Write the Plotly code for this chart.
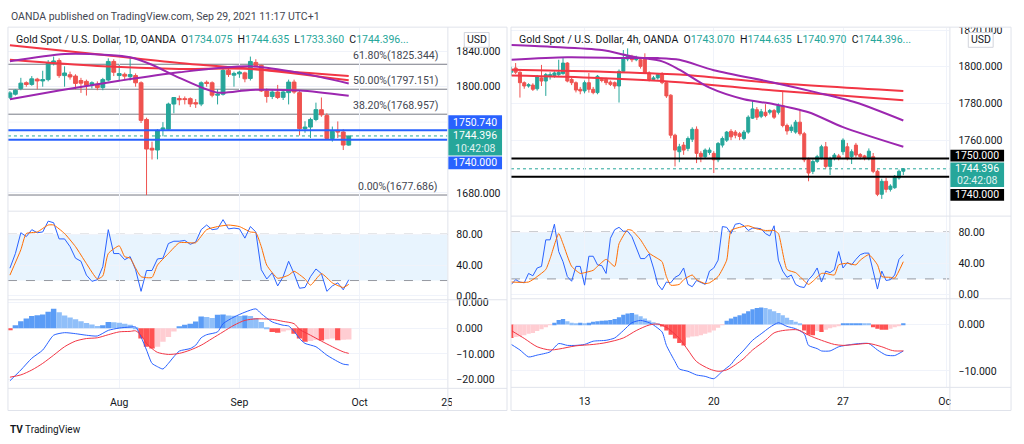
import plotly.graph_objects as go

W, H = 1024, 444
def px(x): return x / W
def py(y): return 1 - y / H

FONT = "Roboto"
TXT = "#131722"
GREEN = "#26a69a"
RED = "#ef5350"
GRID = "#f0f3fa"
BORDER = "#e0e3eb"
MA_RED = "#f23645"
MA_PURPLE = "#9c27b0"
K_BLUE = "#2962ff"
D_ORANGE = "#ff6d00"

# ================= LEFT CHART (1D) =================
L_open = [1788,1791.5,1798,1804.5,1802.6,1808.5,1806.5,1808,1827.5,1829.5,1812.5,1813.5,1812,1807,1806,1802.6,1803,1799,1807.5,1828.5,1812.6,1814,1811.3,1812.6,1804.4,1763,1730.5,1728.5,1752,1752,1780.4,1786.7,1786.5,1786.5,1782,1780.4,1805,1804.4,1790.4,1791.5,1818.5,1813,1814.5,1815.6,1809.3,1827.4,1824.1,1795.2,1789,1794,1788,1793.3,1805.2,1793.3,1752.6,1754.4,1763,1774,1767.4,1741.5,1750,1748.9,1734.075]
L_high = [1795,1797,1810,1806,1812,1810,1818,1830,1834,1832,1823,1817,1814,1810,1808,1806,1806,1810,1832,1831,1825,1816,1832,1815,1806,1765,1738,1752,1760,1782,1788,1790,1789,1788,1786,1806,1807,1806,1797,1820,1821,1817,1818,1817,1834,1831,1825,1798,1797,1802,1797,1808,1808,1795,1761,1765,1782,1787.8,1770,1755,1760.8,1752,1744.635]
L_low = [1786,1790,1796,1800,1801,1797,1800,1806,1824,1810,1800,1808,1797,1793,1790,1798,1796,1796,1806,1812,1807,1808,1807,1800,1759,1677.686,1717.8,1718,1744,1750,1770,1779,1780,1777,1776,1778,1800,1788,1780,1790,1811,1800,1810,1805,1807,1822,1794,1782,1786,1786,1785,1780,1792,1745,1748,1742,1761,1766,1740,1738,1742,1728.5,1733.36]
L_close = [1793,1796,1804,1802.5,1808.9,1806.5,1808,1827,1829,1812.5,1815.5,1811,1803.7,1804,1801.5,1804.4,1799,1808,1828.5,1816.3,1814.8,1811.9,1813.7,1804.4,1762,1729.6,1728.5,1750.7,1753.3,1780.4,1787.8,1785.2,1785.5,1780.5,1780.5,1804.4,1803.7,1790.4,1791.5,1818.5,1813.7,1815,1816.5,1808.9,1828.5,1823.7,1795.2,1788.9,1794,1787.8,1794,1805.2,1794,1752.6,1754.4,1763,1774.1,1768.2,1741.5,1749.6,1749,1734.1,1744.396]

# moving averages (sampled at bar indices)
L_red1_idx = [0, 16, 31, 62]
L_red1 = [1846.7, 1836.7, 1826.7, 1812.2]
L_red2_idx = [0, 16, 31, 44, 62]
L_red2 = [1830.3, 1823.3, 1820.0, 1820.0, 1807.2]
L_pur1_idx = [0, 10, 18, 22, 26, 31, 38, 44, 53, 62]
L_pur1 = [1828.6, 1837.0, 1835.9, 1833.3, 1824.8, 1810.0, 1793.3, 1796.3, 1795.6, 1789.7]
L_pur2_idx = [0, 9, 20, 31, 44, 53, 62]
L_pur2 = [1785.9, 1795.6, 1806.7, 1816.3, 1823.0, 1815.6, 1803.7]

# stochastic
L_k = [36,55,82,77,86,82,83,97,95,74,74,64,49,45,27,19,21,38,86,55,55,47,51,34,6,33,33,48,49,68,71,71,72,67,70,86,92,86,87,99,87,88,87,75,90,83,34,22,30,13,25,45,29,10,11,25,35,29,6,13,17,8,21]
L_d_idx = [0,2,3,5,7,8,10,12,14,16,17,18,20,21,22,23,24,26,27,29,31,33,34,36,38,40,42,44,45,46,47,49,51,52,54,55,57,59,61,62]
L_d = [27,60,81,83,92,92,81,64,42,22,26,55,65,51,49,36,25,24,40,55,69,69,69,86,90,92,90,83,82,64,40,23,27,32,22,14,29,17,11,15]

# MACD
L_hist = [-0.8,1.2,2.8,3.8,4.8,5.1,5.4,6.5,7.6,6.3,5.0,4.2,3.5,2.8,2.1,1.5,0.9,1.2,2.5,2.4,2.2,1.8,1.4,0.1,-4.0,-7.2,-7.9,-7.2,-5.3,-3.4,-1.2,0.8,1.4,1.8,2.7,4.6,4.4,4.0,5.3,5.4,5.0,4.9,4.8,5.0,4.8,4.0,2.5,0.1,-1.4,-1.7,-1.2,-0.8,-2.1,-4.0,-5.3,-5.0,-4.6,-4.8,-4.3,-4.0,-4.7,-4.5,-4.4]
L_macd_idx = [0,2,4,6,8,10,12,14,16,18,20,22,23,24,25,26,27,28,29,30,31,33,34,35,36,38,39,41,43,45,46,48,50,51,52,53,54,56,58,60,61,62]
L_macd = [-20.5,-16.3,-11.7,-8.5,-2.7,-1.7,-2.1,-2.7,-3.0,-0.8,0.1,0.5,0.5,-3.4,-8.5,-13.7,-15,-15.9,-13.7,-11.1,-8.9,-7.9,-6.6,-3.7,-2.5,-1.4,1.8,4.4,6.3,7.6,5.7,2.5,1.2,0.9,-1.2,-4,-5.9,-7.2,-10.5,-13,-14,-14.3]
L_sig_idx = [0,2,4,6,8,10,12,14,16,18,20,22,23,24,25,26,27,29,31,33,35,37,39,41,43,45,46,48,50,52,53,55,57,59,61,62]
L_sig = [-19.1,-18.2,-16.3,-13.7,-10.5,-7.2,-5,-4,-3.7,-2.5,-1.4,-1.2,-1,-2.7,-5.9,-7.9,-9.4,-10.2,-9.8,-8.5,-6.6,-4,-1.4,1.2,3.1,3.7,3.7,3.5,2.7,1.8,-0.4,-2.7,-5,-7.2,-9.2,-9.8]

L_tick_idx = [20, 42, 64, 80]
L_tick_txt = ["Aug", "Sep", "Oct", "25"]
L_fib = [("61.80%", 1825.344), ("50.00%", 1797.151), ("38.20%", 1768.957), ("0.00%", 1677.686)]
L_lines = [1750.740, 1740.000]
L_ohlc_txt = ("1D", "1734.075", "1744.635", "1733.360", "1744.396")
L_timer = "10:42:08"
L_price_ticks = [1840, 1800, 1680]          # labelled price ticks
L_price_grid_extra = [1760, 1720]           # grid levels whose labels sit under the price boxes

# ================= RIGHT CHART (4h) =================
R_open = [1797,1799.3,1797,1791.3,1789.5,1790,1788,1793.9,1792.2,1794.8,1795.2,1795.7,1796.2,1802,1793.1,1791.3,1787.7,1786.8,1791.3,1787.7,1785.9,1793.1,1793.1,1791.6,1791.3,1789.5,1797.5,1804.2,1805.2,1803.8,1803.8,1804.7,1796.6,1793.1,1793.9,1796.2,1791.3,1784.5,1762.7,1753.7,1757.3,1755.5,1760.5,1765.9,1752.8,1751,1753.3,1752.8,1749.3,1757.3,1760,1764.8,1764.4,1763.5,1760.9,1764.4,1772,1776.6,1773,1775.2,1775.2,1776.1,1775.2,1778.8,1768,1765.3,1764.4,1769.8,1763.5,1749.3,1743,1748.4,1750.5,1756.4,1745.7,1750.2,1751.4,1753.7,1756.4,1751,1757.3,1752.2,1751.4,1750.2,1751,1743,1730.5,1737.6,1733.2,1734.1,1739.4,1743.07]
R_high = [1800,1802,1797.5,1792,1791,1791,1795.5,1801,1796.6,1797,1797.5,1803.8,1804.7,1802.5,1794,1792,1789,1792.5,1796.6,1789,1795.5,1794,1794,1792.5,1792,1798.5,1809.1,1810,1806.5,1806,1805,1807.3,1797.5,1795,1796.6,1797,1792,1785,1763.5,1758,1759,1762,1767,1767.5,1754,1755.5,1756,1754,1759,1762,1765,1766,1765.5,1764.5,1765.5,1773.5,1781.4,1778,1777,1779.6,1777,1777,1780,1786.8,1769,1768.5,1771,1777,1764.5,1750.5,1749.5,1752,1757.5,1759,1751,1753,1752.5,1761,1758.5,1755,1758.5,1753,1752,1755.5,1753,1744,1739,1739.5,1736,1741,1744,1744.635]
R_low = [1795,1796,1783.2,1788,1788.6,1786.8,1787,1789.5,1784.1,1793,1794,1795,1795.7,1791.5,1790,1786,1785,1785.5,1785.9,1785,1785,1791.5,1790,1789.5,1788,1780.5,1797,1803,1802.5,1803,1799,1796,1792,1792.5,1793,1790.5,1783,1761,1745.7,1748,1752,1754,1759,1747.5,1748,1750,1752,1742.1,1748,1756,1759,1760,1761,1760,1760,1763.5,1771.5,1771,1772,1772.5,1774,1771.5,1774,1767,1763,1764,1763.5,1762.5,1748,1737.6,1741.5,1747.5,1749.5,1744.5,1741,1749,1749,1752,1749,1747,1750.5,1749.5,1749,1749,1742,1729.5,1728,1731.5,1732,1733.5,1738.5,1740.97]
R_close = [1798.6,1797,1791.3,1789.5,1790.2,1787.7,1794.8,1792.2,1795.7,1795.7,1796.6,1797,1802,1792.2,1791.3,1787.3,1786.8,1791.3,1787.7,1785.9,1794.8,1792.5,1791.3,1790.4,1789.5,1797.5,1804.7,1805.6,1803.8,1804.7,1800.2,1796.6,1793.1,1793.9,1795.7,1791.3,1784.1,1762.7,1754.6,1756.4,1754.6,1760.9,1765.9,1752.8,1751,1754.6,1754.6,1749.3,1758.2,1760.9,1764.4,1761.8,1762.7,1762,1764.4,1772.5,1777,1772.5,1775.5,1773.4,1776.1,1772.5,1778.8,1768,1765,1767.1,1769.8,1763.5,1749.3,1742.1,1748.4,1751,1756.4,1745.7,1750,1751.9,1750.2,1760,1750.2,1753.7,1751.9,1751,1750.2,1754,1743,1730.5,1737.6,1733.2,1735,1740.3,1743,1744.396]

R_red1_idx = [0, 20, 39, 60, 91]
R_red1 = [1798.4, 1797.4, 1795.7, 1791.3, 1786.8]
R_red2_idx = [0, 20, 39, 61, 91]
R_red2 = [1795.2, 1793.9, 1791.6, 1787.0, 1781.8]
R_pur1_idx = [0, 9, 21, 28, 35, 39, 46, 54, 61, 69, 77, 91]
R_pur1 = [1811.8, 1810.9, 1809.1, 1805.6, 1802.9, 1798.4, 1788.6, 1782.3, 1779.6, 1775.2, 1767.1, 1756.4]
R_pur2_idx = [0, 13, 27, 34, 39, 47, 61, 71, 80, 91]
R_pur2 = [1803.8, 1805.2, 1804.7, 1804.7, 1803.8, 1798.1, 1791.3, 1785.9, 1780.5, 1770.7]

R_k = [13,19,16,15,27,24,34,36,70,70,90,55,42,23,17,36,36,12,49,49,38,37,27,72,83,86,81,81,74,61,46,46,52,34,13,6,16,15,22,25,34,13,10,18,15,13,30,34,44,87,86,78,90,91,88,82,85,85,84,78,75,88,44,30,22,25,13,10,9,19,25,34,16,30,28,32,55,34,41,38,45,51,53,53,30,7,30,18,19,25,45,51]
R_d_idx = [0,4,6,8,9,11,12,14,16,17,19,20,22,24,25,27,28,30,32,34,35,36,37,39,40,42,43,45,46,48,50,51,53,55,57,59,61,62,64,66,67,69,70,72,73,75,76,78,80,81,83,85,86,88,89,91]
R_d = [16,16,23,32,46,78,65,36,27,28,31,36,45,36,65,83,82,70,53,46,42,23,12,13,19,25,19,14,15,23,44,82,86,88,84,82,82,78,32,28,23,13,17,27,27,25,38,40,38,44,51,38,23,22,21,42]

R_hist = [-2.9,-2.7,-2.6,-2.3,-2.0,-1.8,-1.4,-1.0,-0.6,-0.1,0.4,1.0,1.2,0.7,0.4,0.3,0.4,0.3,0.4,0.6,0.7,0.8,0.9,1.0,1.2,1.6,2.1,2.4,2.5,2.2,1.8,1.3,0.9,0.5,0.1,-0.4,-1.3,-2.2,-3.0,-4.0,-4.5,-2.8,-2.6,-2.5,-2.3,-2.0,-1.7,-1.3,-0.7,-0.1,0.8,1.3,1.7,2.0,2.4,2.9,3.3,3.6,3.7,3.6,3.3,2.9,2.5,2.0,1.5,1.0,0.6,0.2,-1.3,-2.2,-2.3,-1.4,-1.6,-1.1,-0.8,-0.6,-0.2,0.1,0.3,0.3,0.3,0.3,0.2,0.1,-0.6,-0.9,-1.1,-1.1,-0.9,-0.6,-0.3,0.1]
R_macd_idx = [0,2,4,6,9,11,13,15,17,19,22,24,26,28,30,32,33,35,36,38,39,41,43,45,47,49,51,52,54,56,58,60,62,64,66,68,69,71,72,74,76,79,81,83,85,87,89,91]
R_macd = [-4.3,-5.5,-7,-6.6,-5.9,-4.1,-4.5,-4.5,-4.3,-3.6,-3.4,-2.9,-1.3,0.4,0.9,0.4,-0.1,-1.6,-4.5,-8,-9.6,-10.1,-10.9,-11.2,-11.7,-10.1,-8.6,-7.4,-5.5,-3.4,-2,-0.6,0.4,-0.4,-0.9,-2,-4.5,-5.2,-5.7,-5.7,-4.8,-4.3,-4.1,-4.1,-5.5,-6.6,-6.7,-5.7]
R_sig_idx = [0,3,6,9,11,15,19,22,26,29,32,34,36,39,41,43,46,48,50,52,54,56,59,61,63,66,67,69,72,75,77,80,83,86,88,89,91]
R_sig = [-1.3,-3,-4.8,-5.5,-5.3,-4.6,-4.3,-3.9,-2.9,-1.3,-0.1,0.1,-0.6,-3,-5.5,-8,-9.6,-10.1,-9.8,-8.7,-7.3,-5.5,-3.4,-1.8,-1.3,-1.1,-1.3,-2.3,-3.4,-4.3,-4.5,-4.3,-4.1,-4.8,-5.5,-5.7,-5.7]

R_tick_idx = [17, 47, 77, 101]
R_tick_txt = ["13", "20", "27", "Oct"]
R_lines = [1750.000, 1740.000]
R_ohlc_txt = ("4h", "1743.070", "1744.635", "1740.970", "1744.396")
R_timer = "02:42:08"
R_price_ticks = [1820, 1800, 1780, 1760]
R_price_grid_extra = [1740]
CUR_PRICE = 1744.396

# ================= LAYOUT GEOMETRY (pixels) =================
LX = (8, 450)      # left plot area
RX = (514, 955)    # right plot area
L_PANES = [(24, 210), (210, 300), (300, 390)]
R_PANES = [(24, 215), (215, 299), (299, 389)]
L_RANGES = [(1660.0, 1866.7), (-4.3, 110.6), (-23.27, 11.35)]
R_RANGES = [(1718.9, 1821.3), (-4.8, 101.0), (-13.47, 5.68)]
L_XR = (-0.36, 80.05)
R_XR = (-0.08, 101.7)

fig = go.Figure()

def hist_colors(vals):
    cols = []
    for i, v in enumerate(vals):
        prev = vals[i - 1] if i > 0 else v
        if v >= 0:
            cols.append("#5b9cf6" if v >= prev else "#90bff9")
        else:
            cols.append("#ffcdd2" if v > prev else "#ff5252")
    return cols

def add_chart(o, h, l, c, mas, k, d_idx, d, hist, m_idx, m, s_idx, s, axn):
    xa = [f"x{axn[0]}", f"x{axn[1]}", f"x{axn[2]}"]
    ya = [f"y{axn[0]}", f"y{axn[1]}", f"y{axn[2]}"]
    xs = list(range(len(o)))
    for idx, vals, col in mas:
        fig.add_trace(go.Scatter(x=idx, y=vals, mode="lines", line=dict(color=col, width=2, shape="spline", smoothing=0.8),
                                 xaxis=xa[0], yaxis=ya[0], hoverinfo="skip"))
    fig.add_trace(go.Candlestick(x=xs, open=o, high=h, low=l, close=c, xaxis=xa[0], yaxis=ya[0],
                                 increasing=dict(line=dict(color=GREEN, width=1), fillcolor=GREEN),
                                 decreasing=dict(line=dict(color=RED, width=1), fillcolor=RED),
                                 whiskerwidth=0, hoverinfo="skip"))
    fig.add_trace(go.Scatter(x=xs, y=k, mode="lines", line=dict(color=K_BLUE, width=1), xaxis=xa[1], yaxis=ya[1], hoverinfo="skip"))
    fig.add_trace(go.Scatter(x=d_idx, y=d, mode="lines", line=dict(color=D_ORANGE, width=1, shape="spline", smoothing=0.5),
                             xaxis=xa[1], yaxis=ya[1], hoverinfo="skip"))
    fig.add_trace(go.Bar(x=xs, y=hist, width=1.0, marker=dict(color=hist_colors(hist), line=dict(width=0)),
                         xaxis=xa[2], yaxis=ya[2], hoverinfo="skip"))
    fig.add_trace(go.Scatter(x=m_idx, y=m, mode="lines", line=dict(color=K_BLUE, width=1, shape="spline", smoothing=0.6),
                             xaxis=xa[2], yaxis=ya[2], hoverinfo="skip"))
    fig.add_trace(go.Scatter(x=s_idx, y=s, mode="lines", line=dict(color=MA_RED, width=1, shape="spline", smoothing=0.8),
                             xaxis=xa[2], yaxis=ya[2], hoverinfo="skip"))

add_chart(L_open, L_high, L_low, L_close,
          [(L_red1_idx, L_red1, MA_RED), (L_red2_idx, L_red2, MA_RED), (L_pur1_idx, L_pur1, MA_PURPLE), (L_pur2_idx, L_pur2, MA_PURPLE)],
          L_k, L_d_idx, L_d, L_hist, L_macd_idx, L_macd, L_sig_idx, L_sig, (1, 2, 3))
add_chart(R_open, R_high, R_low, R_close,
          [(R_red1_idx, R_red1, MA_RED), (R_red2_idx, R_red2, MA_RED), (R_pur1_idx, R_pur1, MA_PURPLE), (R_pur2_idx, R_pur2, MA_PURPLE)],
          R_k, R_d_idx, R_d, R_hist, R_macd_idx, R_macd, R_sig_idx, R_sig, (4, 5, 6))

tickfont = dict(family=FONT, size=10.5, color=TXT)
layout = dict(width=W, height=H, margin=dict(l=0, r=0, t=0, b=0), paper_bgcolor="white", plot_bgcolor="white",
              showlegend=False, boxgap=0.3, boxgroupgap=0.0, barmode="overlay", hovermode=False)

def set_axes(xr, panes, ranges, xrange, tick_idx, tick_txt, ytks, base):
    for j in range(3):
        n = base + j
        xkey = "xaxis" if n == 1 else f"xaxis{n}"
        ykey = "yaxis" if n == 1 else f"yaxis{n}"
        layout[xkey] = dict(domain=[px(xr[0]), px(xr[1])], range=list(xrange), anchor=f"y{n}",
                            tickmode="array", tickvals=tick_idx, ticktext=tick_txt, showticklabels=(j == 2),
                            showgrid=True, gridcolor=GRID, gridwidth=1, zeroline=False, showline=False, ticks="",
                            tickfont=tickfont, ticklabelstandoff=7, rangeslider=dict(visible=False), fixedrange=True)
        top, bot = panes[j]
        tv, tt = ytks[j]
        layout[ykey] = dict(domain=[py(bot), py(top)], range=list(ranges[j]), anchor=f"x{n}", side="right",
                            tickmode="array", tickvals=tv, ticktext=tt, showgrid=True, gridcolor=GRID, gridwidth=1,
                            zeroline=False, showline=False, ticks="", tickfont=tickfont, ticklabelstandoff=8, fixedrange=True)

def fmt3(v):
    return f"{v:.3f}".replace("-", "\u2212")

L_ytks = [(L_price_ticks, [fmt3(v) for v in L_price_ticks]),
          ([80, 40, 0], ["80.00", "40.00", "0.00"]),
          ([10, 0, -10, -20], [fmt3(v) for v in (10, 0, -10, -20)])]
R_ytks = [(R_price_ticks, [fmt3(v) for v in R_price_ticks]),
          ([80, 40, 0], ["80.00", "40.00", "0.00"]),
          ([0, -10], [fmt3(v) for v in (0, -10)])]
set_axes(LX, L_PANES, L_RANGES, L_XR, L_tick_idx, L_tick_txt, L_ytks, 1)
set_axes(RX, R_PANES, R_RANGES, R_XR, R_tick_idx, R_tick_txt, R_ytks, 4)

shapes = []
annos = []

def line_px(x0, y0, x1, y1, color=BORDER, width=1, dash="solid"):
    shapes.append(dict(type="line", xref="paper", yref="paper", x0=px(x0), x1=px(x1), y0=py(y0), y1=py(y1),
                       line=dict(color=color, width=width, dash=dash), layer="above"))

def rect_px(x0, y0, x1, y1, fill, line_color=None):
    shapes.append(dict(type="rect", xref="paper", yref="paper", x0=px(x0), x1=px(x1), y0=py(y1), y1=py(y0),
                       fillcolor=fill, line=dict(color=line_color or fill, width=1 if line_color else 0), layer="above"))

def text_px(x, y, txt, size=10.5, color=TXT, xanchor="left", family=FONT):
    annos.append(dict(xref="paper", yref="paper", x=px(x), y=py(y), text=txt, showarrow=False, xanchor=xanchor,
                      yanchor="middle", font=dict(family=family, size=size, color=color)))

# extra price grid levels (labels hidden behind the axis price boxes)
for lv in L_price_grid_extra:
    shapes.append(dict(type="line", xref="x domain", yref="y", x0=0, x1=1, y0=lv, y1=lv,
                       line=dict(color=GRID, width=1), layer="below"))
for lv in R_price_grid_extra:
    shapes.append(dict(type="line", xref="x4 domain", yref="y4", x0=0, x1=1, y0=lv, y1=lv,
                       line=dict(color=GRID, width=1), layer="below"))

# stochastic bands & level lines
for n in (2, 5):
    shapes.append(dict(type="rect", xref=f"x{n} domain", yref=f"y{n}", x0=0, x1=1, y0=20, y1=80,
                       fillcolor="rgba(33,150,243,0.10)", line=dict(width=0), layer="below"))
    for lv in (80, 20):
        shapes.append(dict(type="line", xref=f"x{n} domain", yref=f"y{n}", x0=0, x1=1, y0=lv, y1=lv,
                           line=dict(color="#9598a1", width=1, dash="dash"), layer="below"))

# horizontal price lines
for lv in L_lines:
    shapes.append(dict(type="line", xref="x domain", yref="y", x0=0, x1=1, y0=lv, y1=lv,
                       line=dict(color="#2962ff", width=2), layer="above"))
for lv in R_lines:
    shapes.append(dict(type="line", xref="x4 domain", yref="y4", x0=0, x1=1, y0=lv, y1=lv,
                       line=dict(color="#000000", width=2), layer="above"))
for n in ("", "4"):
    shapes.append(dict(type="line", xref=f"x{n} domain", yref=f"y{n}", x0=0, x1=1, y0=CUR_PRICE, y1=CUR_PRICE,
                       line=dict(color="#26a69a", width=1, dash="dot"), layer="below"))

# fib levels
for name, lv in L_fib:
    shapes.append(dict(type="line", xref="x domain", yref="y", x0=0, x1=1, y0=lv, y1=lv,
                       line=dict(color="#787b86", width=1), layer="below"))
    annos.append(dict(xref="x domain", yref="y", x=0.984, y=lv, text=f"{name}({lv:.3f})", showarrow=False,
                      xanchor="right", yanchor="bottom", yshift=0, font=dict(family=FONT, size=10.5, color="#434651")))

# cover clipped x labels in axis columns
rect_px(454.5, 391, 509.5, 412.5, "white")
rect_px(956.5, 390, 1016.5, 412.5, "white")
rect_px(956, 0, 1020, 23.5, "white")

# frames
for (x0, x1, xs, panes) in ((8, 510, 450.5, L_PANES), (514, 1017, 955.5, R_PANES)):
    rect_shape = dict(type="rect", xref="paper", yref="paper", x0=px(x0), x1=px(x1), y0=py(413), y1=py(23.5),
                      line=dict(color=BORDER, width=1), fillcolor="rgba(0,0,0,0)", layer="above")
    shapes.append(rect_shape)
    line_px(xs, 23.5, xs, 413)
    for (_, b) in panes:
        line_px(x0, b + 0.5, x1, b + 0.5)

# price label boxes
def price_box(x0, x1, y0, y1, fill, lines_txt):
    rect_px(x0, y0, x1, y1, fill)
    n = len(lines_txt)
    hgt = (y1 - y0) / n
    for i, (t, col) in enumerate(lines_txt):
        text_px((x0 + x1) / 2, y0 + hgt * (i + 0.5), t, size=10.5, color=col, xanchor="center")

price_box(451, 505, 113, 127, "#2962ff", [(f"{L_lines[0]:.3f}", "white")])
price_box(451, 505, 127, 154, GREEN, [(f"{CUR_PRICE:.3f}", "white"), (L_timer, "#e0f2f1")])
price_box(451, 505, 155, 168, "#2962ff", [(f"{L_lines[1]:.3f}", "white")])
price_box(956, 1010, 148, 160, "#000000", [(f"{R_lines[0]:.3f}", "white")])
price_box(956, 1010, 161, 186, GREEN, [(f"{CUR_PRICE:.3f}", "white"), (R_timer, "#e0f2f1")])
price_box(956, 1010, 188, 200, "#000000", [(f"{R_lines[1]:.3f}", "white")])

# USD buttons
for (x0, x1) in ((467, 492), (974, 999)):
    shapes.append(dict(type="rect", xref="paper", yref="paper", x0=px(x0), x1=px(x1), y0=py(44), y1=py(29),
                       fillcolor="white", line=dict(color="#d1d4dc", width=1), layer="above"))
    text_px((x0 + x1) / 2, 36.5, "USD", size=10.5, xanchor="center")

# headers
def header(x, tf, o, h, l, c):
    g = GREEN
    t = (f"Gold Spot / U.S. Dollar, {tf}, OANDA&nbsp;&nbsp;O<span style='color:{g}'>{o}</span>&nbsp;&nbsp;"
         f"H<span style='color:{g}'>{h}</span>&nbsp;&nbsp;L<span style='color:{g}'>{l}</span>&nbsp;&nbsp;"
         f"C<span style='color:{g}'>{c}...</span>")
    text_px(x, 36.5, t, size=10.5)

header(14, *L_ohlc_txt)
header(520, *R_ohlc_txt)

text_px(9, 13, "OANDA published on TradingView.com, Sep 29, 2021 11:17 UTC+1", size=10.5, color="#434651")
text_px(8, 432, "<b>TV</b> TradingView", size=10, color=TXT)

layout["shapes"] = shapes
layout["annotations"] = annos
fig.update_layout(**layout)
fig.write_html("out.html", config={"displayModeBar": False},
               post_script="document.body.style.margin='0';document.body.style.overflow='hidden';")
